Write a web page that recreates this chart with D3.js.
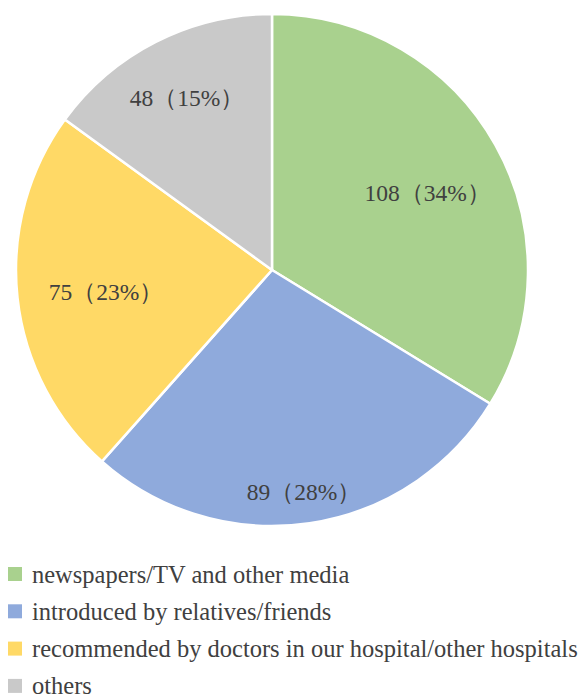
<!DOCTYPE html>
<html>
<head>
<meta charset="utf-8">
<script src="https://cdn.jsdelivr.net/npm/d3@7"></script>
<style>
  html, body { margin: 0; padding: 0; background: #ffffff; }
  svg { display: block; }
  .serif { font-family: "Liberation Serif", "Tinos", "Times New Roman", "DejaVu Serif", serif; }
</style>
</head>
<body>
<svg id="chart" width="583" height="699"></svg>
<script>
const categories = [
  "newspapers/TV and other media",
  "introduced by relatives/friends",
  "recommended by doctors in our hospital/other hospitals",
  "others"
];
const counts = [108, 89, 75, 48];
const percentLabels = ["34%", "28%", "23%", "15%"];
const colors = ["#A9D18E", "#8FAADC", "#FFD966", "#C9C9C9"];

// Label placement (style): radius fraction and angular offset (degrees) from slice mid-angle
const labelRadiusFrac = [0.678, 0.876, 0.654, 0.75];
const labelAngleOffset = [2.9, 0.2, -1.35, 0.7];

const cx = 272, cy = 270, R = 256;

const svg = d3.select("#chart");
const g = svg.append("g").attr("transform", `translate(${cx},${cy})`);

const pie = d3.pie().sort(null).value(d => d);
const arcs = pie(counts);
const arc = d3.arc().innerRadius(0).outerRadius(R);

g.selectAll("path.slice")
  .data(arcs)
  .join("path")
  .attr("class", "slice")
  .attr("d", arc)
  .attr("fill", (d, i) => colors[i])
  .attr("stroke", "#ffffff")
  .attr("stroke-width", 2.5)
  .attr("stroke-linejoin", "round");

g.selectAll("text.lbl")
  .data(arcs)
  .join("text")
  .attr("class", "lbl serif")
  .attr("transform", (d, i) => {
    const a = (d.startAngle + d.endAngle) / 2 + labelAngleOffset[i] * Math.PI / 180;
    const r = R * labelRadiusFrac[i];
    return `translate(${r * Math.sin(a)},${-r * Math.cos(a)})`;
  })
  .attr("text-anchor", "middle")
  .attr("dominant-baseline", "central")
  .attr("font-size", 23.5)
  .attr("fill", "#404040")
  .text((d, i) => `${counts[i]}（${percentLabels[i]}）`);

const legend = svg.append("g").attr("transform", "translate(8,574)");
const rowH = 37.3;
const rows = legend.selectAll("g.row")
  .data(categories)
  .join("g")
  .attr("class", "row")
  .attr("transform", (d, i) => `translate(0,${i * rowH})`);

rows.append("rect")
  .attr("x", 0).attr("y", -7)
  .attr("width", 14).attr("height", 14)
  .attr("fill", (d, i) => colors[i]);

rows.append("text")
  .attr("class", "serif")
  .attr("x", 24)
  .attr("y", 0)
  .attr("dominant-baseline", "central")
  .attr("font-size", 24.5)
  .attr("fill", "#404040")
  .text(d => d);
</script>
</body>
</html>
